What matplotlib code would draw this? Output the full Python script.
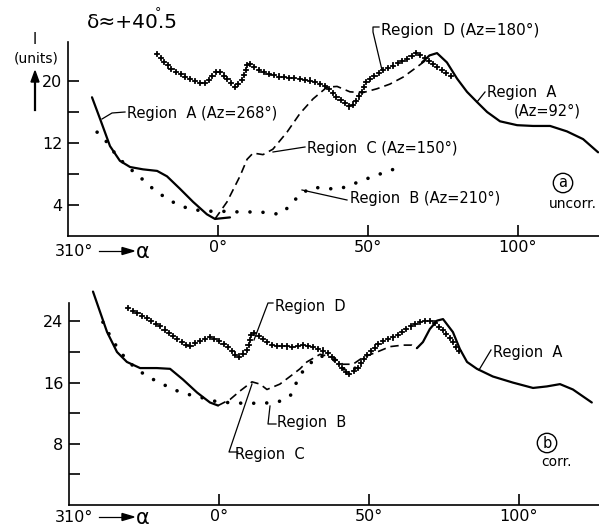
import numpy as np
import matplotlib.pyplot as plt
from matplotlib.lines import Line2D
from matplotlib.path import Path
from matplotlib.transforms import Affine2D
from matplotlib import patheffects as pe

plt.rcParams['font.family'] = ['DejaVu Sans']

# ---- panel (a), uncorrected ----
a_l_x = [-42, -39.3, -36, -32.7, -29.3, -25, -20.3, -17, -12.7, -8.3, -3.7, -1, 4]
a_l_y = [17.9, 15.1, 11.6, 9.7, 8.9, 8.6, 8.4, 7.7, 6.1, 4.4, 2.8, 2.2, 2.4]
a_r_x = [68, 70.5, 73, 76.3, 79.7, 83, 86.3, 89.7, 94, 99.7, 105, 110.7, 116.3, 121.7, 126.7]
a_r_y = [22.4, 23.3, 23.6, 22.4, 20.3, 18.6, 17.3, 16, 14.8, 14.3, 14.2, 14.2, 13.5, 12.5, 10.8]
b_x = [-40.3, -37, -33.7, -30.3, -26, -21.7, -17, -12.7, -8.3, -3.7, 0.7, 7.3, 14, 20.7,
       24, 27.3, 31.7, 36.3, 40.7, 45, 49.7, 54, 60.7]
b_y = [13.4, 12.1, 10.3, 9.0, 7.6, 6.1, 4.8, 3.9, 3.4, 3.2, 3.2, 3.1, 3.1, 2.8,
       3.9, 5.4, 6.3, 6.1, 6.1, 6.7, 7.4, 8.0, 8.9]
c_x = [-1, 3, 7.3, 9.7, 11.7, 15, 18.3, 23, 27.3, 31.7, 36.3, 39.7, 44, 48.3, 53, 57.3,
       61.7, 66.3, 69.7]
c_y = [2.2, 4.4, 7.7, 9.9, 10.7, 10.5, 11.2, 13.4, 15.8, 17.7, 19.2, 19.3, 18.6, 18.5,
       19, 19.6, 20.5, 21.8, 22.8]
d_x = [-20.3, -15, -9.3, -5, -2.7, 0, 3, 5.7, 8.3, 10, 14, 19.7, 26.3, 31.7, 36.3, 39.7,
       44, 46.7, 49.7, 54, 58.3, 62.7, 66.3, 69.7, 74, 78.3]
d_y = [23.5, 21.3, 20.3, 19.6, 20.3, 21.4, 20.3, 19.2, 20.3, 22.4, 21.3, 20.6, 20.3, 20.0,
       19.2, 17.9, 16.6, 17.7, 20, 21.2, 22, 22.8, 23.7, 22.8, 21.5, 20.5]

# ---- panel (b), corrected ----
a2_l_x = [-42, -39.7, -37.3, -34, -30.7, -26.3, -20.7, -16.3, -12, -7.3, -3, -0.3]
a2_l_y = [27.9, 25.3, 22.6, 20, 18.7, 17.9, 17.9, 17.8, 16.4, 14.7, 13.4, 13.0]
a2_r_x = [66, 68, 70.3, 72.7, 74.7, 78, 80.3, 82.7, 86, 91.3, 98, 104.7, 109.3, 113.7, 118, 124.3]
a2_r_y = [20.5, 21.3, 23, 24.1, 24.3, 22.6, 20.4, 18.7, 17.8, 16.8, 16, 15.3, 15.5, 15.8, 15.1, 13.4]
b2_x = [-38.7, -36.3, -33, -28.7, -24, -19.7, -15.3, -10.7, -6.3, -2, 2.7, 8, 13.7, 19.3,
        23.7, 27, 30, 33.7, 38, 42.7, 46]
b2_y = [23.9, 22.1, 20, 18.2, 16.8, 16, 15.1, 14.5, 14.1, 13.6, 13.4, 13.3, 13.3, 13.4,
        14.2, 17.0, 18.4, 19.5, 19.1, 17.4, 18]
c2_x = [-0.3, 3.7, 7, 11, 13.7, 16, 20.3, 24.7, 27, 29.3, 33.7, 38, 41.3, 44.7, 48, 52.7,
        57, 61.3, 64.3, 66]
c2_y = [13, 13.8, 14.9, 16.1, 15.8, 15.1, 15.8, 17.1, 17.8, 18.7, 19.7, 19.3, 18.4, 18.4,
        19.3, 20, 20.7, 20.9, 20.9, 20.5]
d2_x = [-30.3, -25.3, -19.7, -15.3, -10.3, -7, -3, 0.3, 3.7, 6.3, 9.3, 11, 13.7, 18, 24.7,
        27, 31.3, 36, 39.3, 43, 46, 49.3, 53.7, 59.3, 63.7, 68, 71.3, 74.7, 78, 80.3]
d2_y = [25.7, 24.7, 23.4, 22.1, 20.7, 21.3, 22, 21.4, 20.4, 19.3, 20.1, 22.6, 22, 20.8, 20.7,
        20.9, 20.7, 20, 18.7, 17, 17.8, 19.5, 21.3, 22.1, 23.3, 24.1, 24, 22.8, 21.3, 20]

W, H = 599, 527


class CrossStroke(pe.AbstractPathEffect):
    """draw small upright '+' marks at even spacing along the drawn line"""

    def __init__(self, spacing=3.8, size=1.5):
        super().__init__()
        self.spacing = spacing
        self.size = size

    def draw_path(self, renderer, gc, tpath, affine, rgbFace=None):
        verts = affine.transform(tpath.vertices)
        cum = np.concatenate([[0], np.cumsum(np.hypot(*np.diff(verts, axis=0).T))])
        sp = renderer.points_to_pixels(self.spacing)
        h = renderer.points_to_pixels(self.size)
        pos = np.arange(0, cum[-1], sp)
        xs = np.interp(pos, cum, verts[:, 0])
        ys = np.interp(pos, cum, verts[:, 1])
        v, codes = [], []
        for x, y in zip(xs, ys):
            v += [(x - h, y), (x + h, y), (x, y - h), (x, y + h)]
            codes += [Path.MOVETO, Path.LINETO, Path.MOVETO, Path.LINETO]
        renderer.draw_path(gc, Path(v, codes), Affine2D(), None)


def P(x, y):
    return x / W, 1 - y / H


def ftext(x, y, s, size=10.5, **kw):
    fig.text(x / W, 1 - y / H, s, fontsize=size, va='center', **kw)


def leader(pts, lw=0.9):
    xs = [p[0] / W for p in pts]
    ys = [1 - p[1] / H for p in pts]
    fig.add_artist(Line2D(xs, ys, transform=fig.transFigure, color='black', lw=lw))


def draw_curves(ax, al, ar, b, c, d):
    ax.plot(*al, color='black', lw=1.6, solid_capstyle='round')
    ax.plot(*ar, color='black', lw=1.6, solid_capstyle='round')
    ax.plot(*b, color='black', lw=2.6, linestyle=(0, (0.01, 3.6)), dash_capstyle='round')
    ax.plot(*c, color='black', lw=1.2, linestyle=(0, (5, 3)))
    ax.plot(*d, color='black', lw=1.3, path_effects=[CrossStroke(3.8, 1.5)])


def style_axis(ax, ymax, yticks, ylabels, yminor):
    ax.set_ylim(0, ymax)
    for s in ['top', 'right']:
        ax.spines[s].set_visible(False)
    for s in ['left', 'bottom']:
        ax.spines[s].set_linewidth(1.2)
    ax.set_xticks([0, 50, 100], ['0°', '50°', '100°'])
    ax.set_yticks(yticks, ylabels)
    ax.set_yticks(yminor, minor=True)
    ax.tick_params(direction='in', length=8, width=1.2, labelsize=11.5, pad=4)
    ax.tick_params(axis='x', pad=3)
    ax.tick_params(which='minor', direction='in', length=8, width=1.2)


fig = plt.figure(figsize=(5.99, 5.27), dpi=100)

ax1 = fig.add_axes([68 / W, (H - 236) / H, 1 - 68 / W, 25 * 7.75 / H])
ax1.set_xlim(-50, 127)
draw_curves(ax1, (a_l_x, a_l_y), (a_r_x, a_r_y), (b_x, b_y), (c_x, c_y), (d_x, d_y))
style_axis(ax1, 25, [4, 12, 20], ['4', '12', '20'], [8, 16])

ax2 = fig.add_axes([69 / W, (H - 505) / H, 1 - 69 / W, 28.5 * 7.65 / H])
ax2.set_xlim(-50, 126.7)
draw_curves(ax2, (a2_l_x, a2_l_y), (a2_r_x, a2_r_y), (b2_x, b2_y), (c2_x, c2_y), (d2_x, d2_y))
style_axis(ax2, 28.5, [8, 16, 24], ['8', '16', '24'], [4, 12, 20])
ax2.spines['left'].set_bounds(0, 26.4)

# header and axis annotations
ftext(87, 22, 'δ≈+40.5', size=14.5)
ftext(158, 13, '°', size=9, ha='center')
ftext(35, 40, 'I', size=10.5, ha='center')
ftext(36, 58, '(units)', size=10, ha='center')
leader([(35, 110), (35, 80)], lw=1.6)
fig.add_artist(plt.Polygon([P(31, 82), P(39, 82), P(35, 71)], closed=True,
                           transform=fig.transFigure, color='black'))

for yb in (251, 517):
    ftext(74, yb, '310°', size=11.5, ha='center')
    leader([(99, yb), (128, yb)])
    fig.add_artist(plt.Polygon([P(122, yb - 3.5), P(122, yb + 3.5), P(134, yb)], closed=True,
                               transform=fig.transFigure, color='black'))
    ftext(136, yb + 1, 'α', size=15)

# panel (a) labels
ftext(127, 113, 'Region  A (Az=268°)')
leader([(125, 112), (112, 113), (102, 119)])
ftext(307, 148, 'Region  C (Az=150°)')
leader([(305, 147), (273, 152)])
ftext(350, 198, 'Region  B (Az=210°)')
leader([(347, 200), (302, 190)])
ftext(381, 30, 'Region  D (Az=180°)', size=11)
leader([(379, 27), (373, 27), (373, 32), (382, 70)])
ftext(487, 92, 'Region  A')
ftext(514, 111, '(Az=92°)')
leader([(485, 92), (477, 102)])
fig.text(563 / W, 1 - 183 / H, 'a', fontsize=10.5, ha='center', va='center',
         bbox=dict(boxstyle='circle,pad=0.15', fc='white', ec='black', lw=1))
ftext(573, 204, 'uncorr.', size=10, ha='center')

# panel (b) labels
ftext(275, 306, 'Region  D')
leader([(273, 303), (268, 303), (254, 340)])
ftext(277, 422, 'Region  B')
leader([(270, 406), (268, 424), (276, 424)])
ftext(235, 455, 'Region  C')
leader([(238, 452), (229, 452), (252, 384)])
ftext(493, 353, 'Region  A')
leader([(491, 350), (479, 370)])
fig.text(547 / W, 1 - 443 / H, 'b', fontsize=10.5, ha='center', va='center',
         bbox=dict(boxstyle='circle,pad=0.15', fc='white', ec='black', lw=1))
ftext(556, 462, 'corr.', size=10, ha='center')

plt.savefig('out.png', dpi=100)
